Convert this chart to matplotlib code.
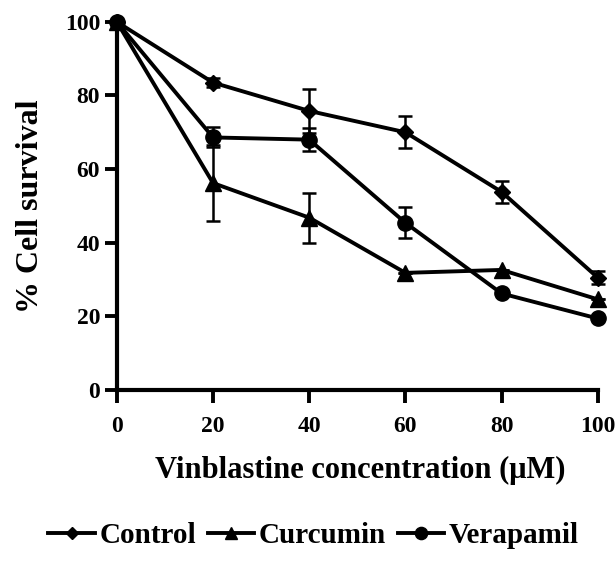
import matplotlib.pyplot as plt
from matplotlib.lines import Line2D

# data
conc = [0, 20, 40, 60, 80, 100]

control = [100, 83.5, 75.8, 70.0, 53.8, 30.5]
control_err = [0, 1.2, 6.0, 4.3, 3.0, 1.8]

curcumin = [100, 56.2, 46.8, 31.8, 32.6, 24.6]
curcumin_err = [0, 10.3, 6.8, 0, 0, 0]

verapamil = [100, 68.6, 68.0, 45.4, 26.2, 19.4]
verapamil_err = [0, 2.7, 3.2, 4.2, 0, 0]

names = ['Control', 'Curcumin', 'Verapamil']
markers = ['D', '^', 'o']
sizes = [8, 11, 11]

plt.rcParams['font.family'] = 'Liberation Serif'
plt.rcParams['font.weight'] = 'bold'

fig = plt.figure(figsize=(6.15, 5.61), dpi=100)
ax = fig.add_axes([0.19, 0.305, 0.782, 0.656])

style = dict(color='black', linewidth=2.8, capsize=5, elinewidth=1.8,
             capthick=1.8, clip_on=False)
series = [(control, control_err), (curcumin, curcumin_err),
          (verapamil, verapamil_err)]
for (vals, err), name, m, s in zip(series, names, markers, sizes):
    ax.errorbar(conc, vals, yerr=err, marker=m, markersize=s, label=name,
                **style)

ax.set_xlim(0, 100)
ax.set_ylim(0, 100)
ax.set_xticks([0, 20, 40, 60, 80, 100])
ax.set_yticks([0, 20, 40, 60, 80, 100])

for side in ['top', 'right']:
    ax.spines[side].set_visible(False)
for side in ['left', 'bottom']:
    ax.spines[side].set_linewidth(3)

ax.tick_params(axis='both', length=9, width=2.8, labelsize=17)
ax.tick_params(axis='x', pad=10)
ax.tick_params(axis='y', pad=3)

ax.set_xlabel('Vinblastine concentration (\u03bcM)', fontsize=22,
              fontweight='bold')
ax.xaxis.set_label_coords(0.507, -0.18)
ax.set_ylabel('% Cell survival', fontsize=23, fontweight='bold')
ax.yaxis.set_label_coords(-0.15, 0.5)

# legend without error bars in the handles
handles = [Line2D([], [], color='black', linewidth=2.8, marker=m,
                  markersize=s * 0.8) for m, s in zip(markers, sizes)]
fig.legend(handles, names, loc='center', bbox_to_anchor=(0.51, 0.045),
           ncol=3, frameon=False, fontsize=21, handlelength=1.6,
           handletextpad=0.15, columnspacing=0.4)

fig.savefig('out.png', dpi=100)
